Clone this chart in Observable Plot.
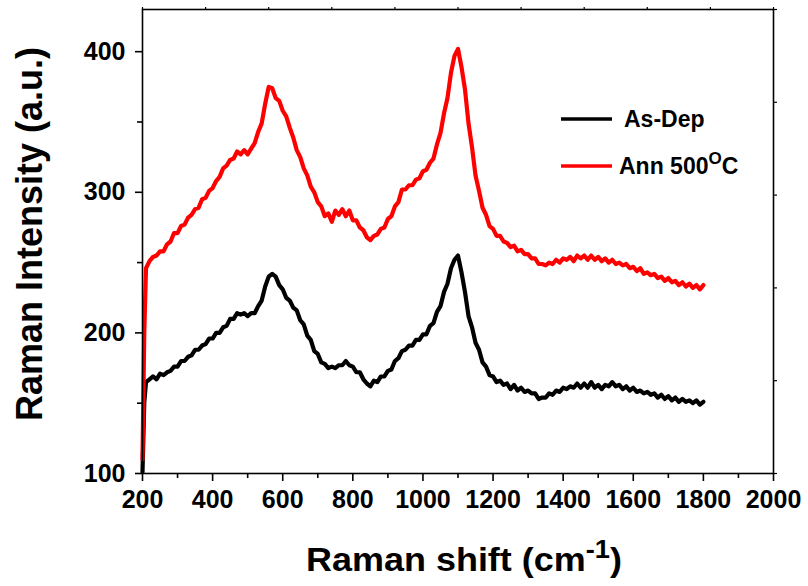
<!DOCTYPE html>
<html><head><meta charset="utf-8">
<script src="https://cdn.jsdelivr.net/npm/d3@7"></script>
<script src="https://cdn.jsdelivr.net/npm/@observablehq/plot@0.6"></script>
<style>
body{margin:0;background:#fff}
#chart svg{font-family:"Liberation Sans",Arial,sans-serif}
</style>
</head><body><div id="chart"></div>
<script>
const shift = [200,205,210,220,230,240,250,260,270,280,290,300,310,320,330,340,350,360,370,380,390,400,410,420,430,440,450,460,470,480,490,500,510,520,530,540,550,560,570,580,590,600,610,620,630,640,650,660,670,680,690,700,710,720,730,740,750,760,770,780,790,800,810,820,830,840,850,860,870,880,890,900,910,920,930,940,950,960,970,980,990,1000,1010,1020,1030,1040,1050,1060,1070,1080,1090,1100,1110,1120,1130,1140,1150,1160,1170,1180,1190,1200,1210,1220,1230,1240,1250,1260,1270,1280,1290,1300,1310,1320,1330,1340,1350,1360,1370,1380,1390,1400,1410,1420,1430,1440,1450,1460,1470,1480,1490,1500,1510,1520,1530,1540,1550,1560,1570,1580,1590,1600,1610,1620,1630,1640,1650,1660,1670,1680,1690,1700,1710,1720,1730,1740,1750,1760,1770,1780,1790,1800];

const asDep = [
101,150,165,
167,169,167,171,170,172,173,176,176,180,180,183,184,188,188,191,192,196,196,200,200,204,205,210,210,214,213,214,212,214,214,219,223,233,240,242,240,234,231,225,223,218,216,209,206,198,195,187,185,179,178,175,176,175,177,177,180,177,176,172,172,167,164,162,166,165,169,169,173,174,180,182,187,188,191,191,195,195,199,
199,205,207,215,219,229,235,246,252,255,243,229,212,204,193,188,179,176,170,169,165,166,163,164,160,163,159,161,158,159,157,157,153,154,154,157,156,159,158,161,160,162,161,164,161,164,161,165,161,163,160,163,162,165,162,163,160,162,159,161,158,159,157,158,156,157,154,156,153,155,152,154,151,153,151,152,150,152,149,151];

const ann500 = [
110,200,246,
251,254,255,258,258,263,265,271,271,276,277,282,284,288,289,295,296,301,303,308,311,317,319,323,324,329,327,330,327,331,335,343,349,363,375,374,367,365,358,354,346,339,330,325,317,312,304,300,293,290,283,285,279,287,284,288,283,287,280,280,275,273,268,266,269,270,274,275,281,283,290,293,302,302,305,305,309,310,315,
316,321,324,334,342,356,367,385,397,402,389,373,349,332,312,301,289,284,276,274,269,269,265,264,261,262,258,259,256,256,253,253,249,249,248,250,249,252,250,253,252,254,251,255,253,255,252,255,252,254,251,253,250,252,249,250,248,249,246,247,244,246,242,243,241,242,239,240,237,239,236,237,234,236,233,235,232,234,231,234];

const seriesNames = ["As-Dep", "Ann 500"];
const seriesColors = ["#000000", "#ff0000"];

const xTicks = [200,400,600,800,1000,1200,1400,1600,1800,2000];
const xMinor = [300,500,700,900,1100,1300,1500,1700,1900];
const yTicks = [100,200,300,400];
const yMinor = [150,250,350];
const topTicks = [200,380,560,740,920,1100,1280,1460,1640,1820,2000];
const rightTicks = [100,166,232,298,364,430];

const rows = [];
shift.forEach((x, i) => {
  if (asDep[i] !== undefined) rows.push({x, y: asDep[i], s: seriesNames[0]});
});
shift.forEach((x, i) => {
  if (ann500[i] !== undefined) rows.push({x, y: ann500[i], s: seriesNames[1]});
});

const W = 808, H = 586;
const mL = 142, mR = 35, mT = 9, mB = 113;

const plot = Plot.plot({
  width: W, height: H,
  marginLeft: mL, marginRight: mR, marginTop: mT, marginBottom: mB,
  x: {domain: [200, 2000], label: null},
  y: {domain: [100, 430], label: null},
  color: {domain: seriesNames, range: seriesColors},
  style: {fontFamily: "'Liberation Sans', Arial, sans-serif", fontWeight: "bold", color: "#000", background: "#fff"},
  marks: [
    Plot.line(rows, {x: "x", y: "y", z: "s", stroke: "s", strokeWidth: 4.2, strokeLinejoin: "round", strokeLinecap: "round"}),
    Plot.frame({stroke: "#000", strokeWidth: 1.6}),
    Plot.axisX({ticks: xTicks, tickSize: 8, tickPadding: 9, tickFormat: d => String(d), fontSize: 25, fontWeight: "bold", strokeWidth: 1.6, label: null}),
    Plot.axisX({ticks: xMinor, tickSize: 5, tickFormat: () => "", strokeWidth: 1.6, label: null}),
    Plot.axisX({anchor: "top", ticks: topTicks, tickSize: 3, tickFormat: () => "", strokeWidth: 1.2, label: null}),
    Plot.axisY({ticks: yTicks, tickSize: 7, tickPadding: 10, tickFormat: d => String(d), fontSize: 25, fontWeight: "bold", strokeWidth: 1.6, label: null}),
    Plot.axisY({ticks: yMinor, tickSize: 5, tickFormat: () => "", strokeWidth: 1.6, label: null}),
    Plot.axisY({anchor: "right", ticks: rightTicks, tickSize: 3, tickFormat: () => "", strokeWidth: 1.2, label: null})
  ]
});

document.getElementById("chart").appendChild(plot);

const svg = d3.select(plot);
const ff = "'Liberation Sans', Arial, sans-serif";

// axis titles
const xt = svg.append("text")
  .attr("transform", "translate(464,571) scale(1.09,1)")
  .attr("text-anchor", "middle")
  .attr("font-family", ff).attr("font-weight", "bold").attr("font-size", 33)
  .attr("fill", "#000");
xt.append("tspan").text("Raman shift (cm");
xt.append("tspan").attr("dy", -13).attr("font-size", 25).text("-1");
xt.append("tspan").attr("dy", 13).text(")");

svg.append("text")
  .attr("transform", "translate(42,234) rotate(-90)")
  .attr("text-anchor", "middle")
  .attr("font-family", ff).attr("font-weight", "bold").attr("font-size", 36)
  .attr("fill", "#000")
  .text("Raman Intensity (a.u.)");

// legend
const leg = [
  {y: 119, ty: 127, tx: 624},
  {y: 166, ty: 174, tx: 619}
];
leg.forEach((l, i) => {
  svg.append("line")
    .attr("x1", 561).attr("x2", 612).attr("y1", l.y).attr("y2", l.y)
    .attr("stroke", seriesColors[i]).attr("stroke-width", 3.5);
  const t = svg.append("text")
    .attr("x", l.tx).attr("y", l.ty)
    .attr("text-anchor", "start")
    .attr("font-family", ff).attr("font-weight", "bold").attr("font-size", 23)
    .attr("fill", "#000");
  t.append("tspan").text(seriesNames[i]);
  if (i === 1) {
    t.append("tspan").attr("dy", -10).attr("font-size", 17).text("O");
    t.append("tspan").attr("dy", 10).text("C");
  }
});
</script>
</body></html>
